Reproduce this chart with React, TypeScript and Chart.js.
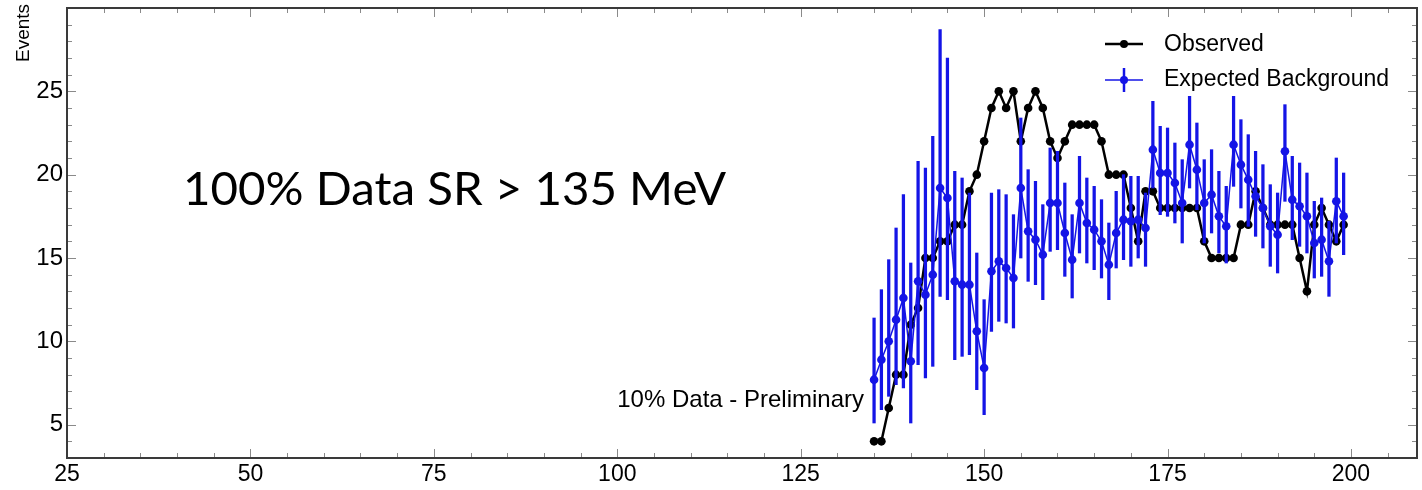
import React, { useEffect, useRef } from 'react';
import { Chart, registerables } from 'chart.js';

Chart.register(...registerables);

// ---- data ----
const massBins = [
  135, 136, 137, 138, 139, 140, 141, 142, 143, 144,
  145, 146, 147, 148, 149, 150, 151, 152, 153, 154,
  155, 156, 157, 158, 159, 160, 161, 162, 163, 164,
  165, 166, 167, 168, 169, 170, 171, 172, 173, 174,
  175, 176, 177, 178, 179, 180, 181, 182, 183, 184,
  185, 186, 187, 188, 189, 190, 191, 192, 193, 194,
  195, 196, 197, 198, 199,
];

const observed = [
  4, 4, 6, 8, 8, 11, 12, 15, 15, 16,
  16, 17, 17, 19, 20, 22, 24, 25, 24, 25,
  22, 24, 25, 24, 22, 21, 22, 23, 23, 23,
  23, 22, 20, 20, 20, 18, 16, 19, 19, 18,
  18, 18, 18, 18, 18, 16, 15, 15, 15, 15,
  17, 17, 19, 18, 17, 17, 17, 17, 15, 13,
  17, 18, 17, 16, 17,
];

const expected = [
  7.7, 8.9, 10.0, 11.3, 12.6, 8.8, 13.6, 12.8, 14.0, 19.2,
  18.6, 13.6, 13.4, 13.4, 10.6, 8.4, 14.2, 14.8, 14.4, 13.8,
  19.2, 16.6, 16.1, 15.2, 18.3, 18.3, 16.5, 14.9, 18.3, 17.1,
  16.7, 16.0, 14.6, 16.5, 17.3, 17.2, 17.3, 16.8, 21.5, 20.1,
  20.1, 19.5, 18.3, 21.8, 20.3, 18.3, 18.8, 17.5, 16.9, 21.8,
  20.6, 19.7, 18.7, 18.0, 16.9, 16.4, 21.4, 18.5, 18.1, 17.5,
  15.9, 16.1, 14.8, 18.4, 17.5,
];

const expectedLow = [
  5.1, 5.9, 6.7, 7.4, 7.2, 5.1, 8.6, 7.8, 8.5, 12.7,
  12.5, 8.9, 9.1, 9.2, 7.1, 5.6, 10.6, 11.2, 11.1, 10.8,
  15.0, 13.6, 13.4, 12.5, 15.4, 15.5, 13.9, 12.6, 15.3, 14.7,
  14.3, 13.8, 12.5, 14.4, 14.9, 14.5, 15.0, 14.5, 19.2, 17.6,
  17.5, 17.1, 15.9, 19.2, 17.9, 15.9, 16.5, 15.3, 14.7, 19.3,
  18.0, 16.9, 16.3, 15.6, 14.5, 14.1, 18.4, 16.1, 15.7, 15.3,
  13.8, 13.9, 12.7, 15.9, 15.2,
];

const expectedHigh = [
  11.4, 13.1, 14.9, 16.8, 18.8, 14.7, 20.8, 20.4, 22.3, 28.7,
  27.0, 20.2, 19.8, 18.9, 15.3, 12.5, 18.9, 19.1, 18.8, 17.6,
  23.4, 20.3, 19.6, 18.2, 21.6, 21.4, 19.5, 17.6, 21.1, 19.8,
  19.3, 18.5, 17.1, 19.0, 20.0, 19.9, 19.9, 18.9, 24.4, 22.9,
  22.8, 21.9, 20.9, 24.7, 23.1, 20.9, 21.5, 20.2, 19.3, 24.7,
  23.3, 22.4, 21.4, 20.6, 19.4, 18.9, 24.2, 21.1, 20.7, 20.1,
  18.4, 18.6, 17.2, 21.0, 20.1,
];

const xTickLabels = [25, 50, 75, 100, 125, 150, 175, 200];
const yTickLabels = [5, 10, 15, 20, 25];

const seriesNames = ['Observed', 'Expected Background'];
const yAxisTitle = 'Events';
const mainText = '100% Data SR > 135 MeV';
const subText = '10% Data - Preliminary';

const BLUE = '#1414e6';
const BLACK = '#000000';
const FONT = '"Liberation Sans", Arial, Helvetica, sans-serif';

const decorPlugin = {
  id: 'decor',
  afterDatasetsDraw(chart: any) {
    const { ctx, chartArea: a, scales } = chart;
    const xs = scales.x;
    const ys = scales.y;
    ctx.save();

    // inner ticks (ROOT style) on all four sides
    ctx.strokeStyle = '#8a8a8a';
    ctx.lineWidth = 1;
    ctx.beginPath();
    for (let v = 25; v <= xs.max + 1e-9; v += 5) {
      const px = Math.round(xs.getPixelForValue(v)) + 0.5;
      const len = v % 25 === 0 ? 9 : 5;
      ctx.moveTo(px, a.bottom);
      ctx.lineTo(px, a.bottom - len);
      ctx.moveTo(px, a.top);
      ctx.lineTo(px, a.top + len);
    }
    for (let v = Math.ceil(ys.min); v <= ys.max + 1e-9; v += 1) {
      const py = Math.round(ys.getPixelForValue(v)) + 0.5;
      const len = v % 5 === 0 ? 9 : 5;
      ctx.moveTo(a.left, py);
      ctx.lineTo(a.left + len, py);
      ctx.moveTo(a.right, py);
      ctx.lineTo(a.right - len, py);
    }
    ctx.stroke();

    // frame
    ctx.strokeStyle = '#3a3a3a';
    ctx.lineWidth = 2;
    ctx.strokeRect(a.left, a.top, a.right - a.left, a.bottom - a.top);

    // y-axis title
    ctx.save();
    ctx.translate(24, 62);
    ctx.rotate(-Math.PI / 2);
    ctx.fillStyle = '#000';
    ctx.font = `19px ${FONT}`;
    ctx.textAlign = 'left';
    ctx.textBaseline = 'middle';
    ctx.fillText(yAxisTitle, 0, 0);
    ctx.restore();

    // big annotation
    ctx.save();
    ctx.font = `400 46px Lato, "Open Sans", sans-serif`;
    const w = ctx.measureText(mainText).width;
    const sx = 543 / w;
    ctx.translate(183, 205);
    ctx.scale(sx, 1);
    ctx.fillStyle = '#000';
    ctx.textAlign = 'left';
    ctx.textBaseline = 'alphabetic';
    ctx.fillText(mainText, 0, 0);
    ctx.restore();

    // preliminary label
    ctx.fillStyle = '#000';
    ctx.font = `24px ${FONT}`;
    ctx.textAlign = 'right';
    ctx.textBaseline = 'alphabetic';
    ctx.fillText(subText, 864, 407);

    // legend
    ctx.lineCap = 'butt';
    ctx.strokeStyle = BLACK;
    ctx.lineWidth = 2.5;
    ctx.beginPath();
    ctx.moveTo(1105, 44);
    ctx.lineTo(1143, 44);
    ctx.stroke();
    ctx.fillStyle = BLACK;
    ctx.beginPath();
    ctx.arc(1124, 44, 4, 0, Math.PI * 2);
    ctx.fill();

    ctx.strokeStyle = BLUE;
    ctx.lineWidth = 1.5;
    ctx.beginPath();
    ctx.moveTo(1105, 80);
    ctx.lineTo(1143, 80);
    ctx.stroke();
    ctx.lineWidth = 2.5;
    ctx.beginPath();
    ctx.moveTo(1124, 68);
    ctx.lineTo(1124, 92);
    ctx.stroke();
    ctx.fillStyle = BLUE;
    ctx.beginPath();
    ctx.arc(1124, 80, 4, 0, Math.PI * 2);
    ctx.fill();

    ctx.fillStyle = '#000';
    ctx.font = `23px ${FONT}`;
    ctx.textAlign = 'left';
    ctx.fillText(seriesNames[0], 1164, 51);
    ctx.fillText(seriesNames[1], 1164, 86);

    ctx.restore();
  },
};

export default function App() {
  const canvasRef = useRef<HTMLCanvasElement | null>(null);

  useEffect(() => {
    const canvas = canvasRef.current;
    if (!canvas) return;

    const obsPoints = massBins.map((x, i) => ({ x, y: observed[i] }));
    const expPoints = massBins.map((x, i) => ({ x, y: expected[i] }));
    const errBars = massBins.map((x, i) => ({ x, y: [expectedLow[i], expectedHigh[i]] }));

    const chart = new Chart(canvas, {
      type: 'line',
      data: {
        datasets: [
          {
            type: 'line',
            label: seriesNames[1],
            data: expPoints,
            borderColor: BLUE,
            backgroundColor: BLUE,
            borderWidth: 1.5,
            pointRadius: 4.3,
            pointBorderWidth: 0,
            pointBackgroundColor: BLUE,
            tension: 0,
            order: 1,
          } as any,
          {
            type: 'bar',
            label: seriesNames[1] + ' error',
            data: errBars,
            backgroundColor: BLUE,
            borderWidth: 0,
            barThickness: 2.6,
            grouped: false,
            order: 2,
          } as any,
          {
            type: 'line',
            label: seriesNames[0],
            data: obsPoints,
            borderColor: BLACK,
            backgroundColor: BLACK,
            borderWidth: 2.5,
            pointRadius: 4.3,
            pointBorderWidth: 0,
            pointBackgroundColor: BLACK,
            tension: 0,
            order: 3,
          } as any,
        ],
      },
      options: {
        animation: false,
        responsive: false,
        maintainAspectRatio: false,
        events: [],
        layout: { padding: { top: 8, right: 5, left: 0, bottom: 0 } },
        plugins: {
          legend: { display: false },
          tooltip: { enabled: false },
        },
        scales: {
          x: {
            type: 'linear',
            min: 25,
            max: 209,
            offset: false,
            grid: { display: false, drawTicks: false, offset: false },
            border: { display: false },
            ticks: {
              padding: 3,
              color: '#000',
              font: { family: FONT, size: 23 },
              maxRotation: 0,
              autoSkip: false,
            },
            afterBuildTicks: (s: any) => {
              s.ticks = xTickLabels.map((v) => ({ value: v }));
            },
            afterFit: (s: any) => {
              s.height = 32;
              s.paddingLeft = 0;
              s.paddingRight = 0;
            },
          },
          y: {
            type: 'linear',
            min: 3,
            max: 30,
            beginAtZero: false,
            grid: { display: false, drawTicks: false },
            border: { display: false },
            ticks: {
              padding: 4,
              color: '#000',
              font: { family: FONT, size: 24 },
              autoSkip: false,
            },
            afterBuildTicks: (s: any) => {
              s.ticks = yTickLabels.map((v) => ({ value: v }));
            },
            afterFit: (s: any) => {
              s.width = 67;
              s.paddingTop = 0;
              s.paddingBottom = 0;
            },
          },
        },
      } as any,
      plugins: [decorPlugin],
    });

    return () => {
      chart.destroy();
    };
  }, []);

  return (
    <div style={{ position: 'absolute', left: 0, top: 0, width: 1422, height: 490, background: '#fff' }}>
      <canvas ref={canvasRef} width={1422} height={490} style={{ display: 'block' }} />
    </div>
  );
}
